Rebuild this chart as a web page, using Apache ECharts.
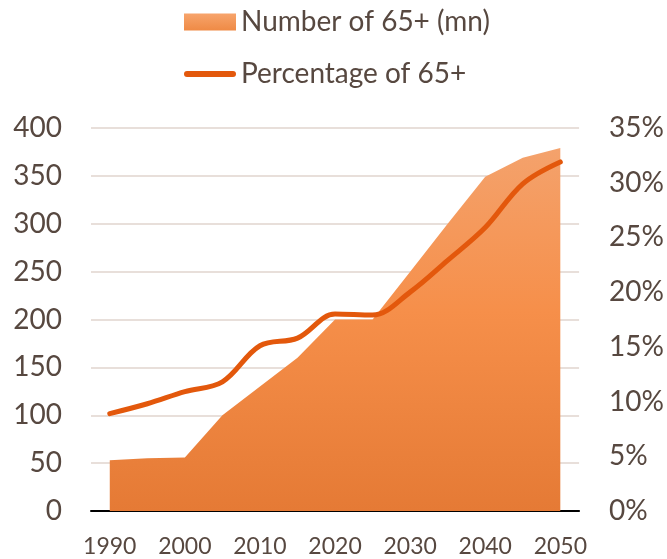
<!DOCTYPE html>
<html>
<head>
<meta charset="utf-8">
<style>
  html, body { margin: 0; padding: 0; background: #ffffff; }
  #chart { width: 667px; height: 559px; }
</style>
<script src="https://cdn.jsdelivr.net/npm/echarts@6/dist/echarts.min.js"></script>
</head>
<body>
<div id="chart"></div>
<script>
// Population aged 65 and over, 1990–2050 in five-year steps
const years = ['1990', '1995', '2000', '2005', '2010', '2015', '2020',
               '2025', '2030', '2035', '2040', '2045', '2050'];
// Number of people aged 65+ (millions)
const number65 = [53, 55, 56, 100, 130, 160, 200, 200, 250, 300, 349, 369, 379];
// Share of the population aged 65+ (%)
const share65 = [8.9, 9.8, 10.9, 11.8, 15.1, 15.8, 18.0, 17.9, 20.0, 22.9, 25.9, 29.9, 31.9];

const leftTicks = { min: 0, max: 400, interval: 50 };
const rightTicks = { min: 0, max: 35, interval: 5 };

const seriesNames = ['Number of 65+ (mn)', 'Percentage of 65+'];

const textColor = '#574840';
const fontFamily = 'Lato, "Open Sans", sans-serif';

const areaFill = new echarts.graphic.LinearGradient(0, 0, 0, 1, [
  { offset: 0, color: '#f4a26c' },
  { offset: 0.45, color: '#f68f4a' },
  { offset: 1, color: '#e57a35' }
]);

// Legend key for the line: a thin bar with rounded ends
const lineKey = 'path://M3,0L49,0A3,3,0,0,1,49,6L3,6A3,3,0,0,1,3,0Z';

const chart = echarts.init(document.getElementById('chart'), null, { renderer: 'canvas' });

chart.setOption({
  animation: false,
  backgroundColor: '#ffffff',
  textStyle: { fontFamily: fontFamily, color: textColor },
  legend: {
    orient: 'vertical',
    left: 184,
    top: 7,
    padding: 0,
    itemWidth: 52,
    itemHeight: 17,
    itemGap: 22,
    symbolKeepAspect: true,
    textStyle: { fontSize: 28, color: textColor, fontFamily: fontFamily, lineHeight: 30 },
    data: [
      {
        name: seriesNames[0],
        icon: 'rect',
        itemStyle: {
          color: new echarts.graphic.LinearGradient(0, 0, 0, 1, [
            { offset: 0, color: '#f7a46c' },
            { offset: 1, color: '#ef8a45' }
          ])
        }
      },
      {
        name: seriesNames[1],
        icon: lineKey,
        itemStyle: { color: '#e3580c' }
      }
    ]
  },
  grid: { left: 91, right: 87, top: 128, bottom: 48, containLabel: false },
  xAxis: {
    type: 'category',
    data: years,
    boundaryGap: true,
    axisLine: { show: true, lineStyle: { color: '#000000', width: 2 } },
    axisTick: { show: false },
    axisLabel: { interval: 1, fontSize: 23, color: textColor, fontFamily: fontFamily, margin: 24 },
    splitLine: { show: false }
  },
  yAxis: [
    {
      type: 'value',
      min: leftTicks.min,
      max: leftTicks.max,
      interval: leftTicks.interval,
      axisLine: { show: false },
      axisTick: { show: false },
      axisLabel: { fontSize: 28, color: textColor, fontFamily: fontFamily, margin: 29 },
      splitLine: { show: true, lineStyle: { color: '#e8dfda', width: 2 } }
    },
    {
      type: 'value',
      min: rightTicks.min,
      max: rightTicks.max,
      interval: rightTicks.interval,
      position: 'right',
      axisLine: { show: false },
      axisTick: { show: false },
      axisLabel: { fontSize: 28, color: textColor, fontFamily: fontFamily, margin: 30, formatter: '{value}%' },
      splitLine: { show: false }
    }
  ],
  series: [
    {
      name: seriesNames[0],
      type: 'line',
      yAxisIndex: 0,
      data: number65,
      symbol: 'none',
      smooth: false,
      lineStyle: { width: 0 },
      itemStyle: { color: '#f4944f' },
      areaStyle: { color: areaFill, opacity: 1 },
      z: 2
    },
    {
      name: seriesNames[1],
      type: 'line',
      yAxisIndex: 1,
      data: share65,
      symbol: 'none',
      smooth: 0.35,
      lineStyle: { color: '#e3580c', width: 5, cap: 'round', join: 'round' },
      itemStyle: { color: '#e3580c' },
      z: 3
    }
  ]
});
</script>
</body>
</html>
